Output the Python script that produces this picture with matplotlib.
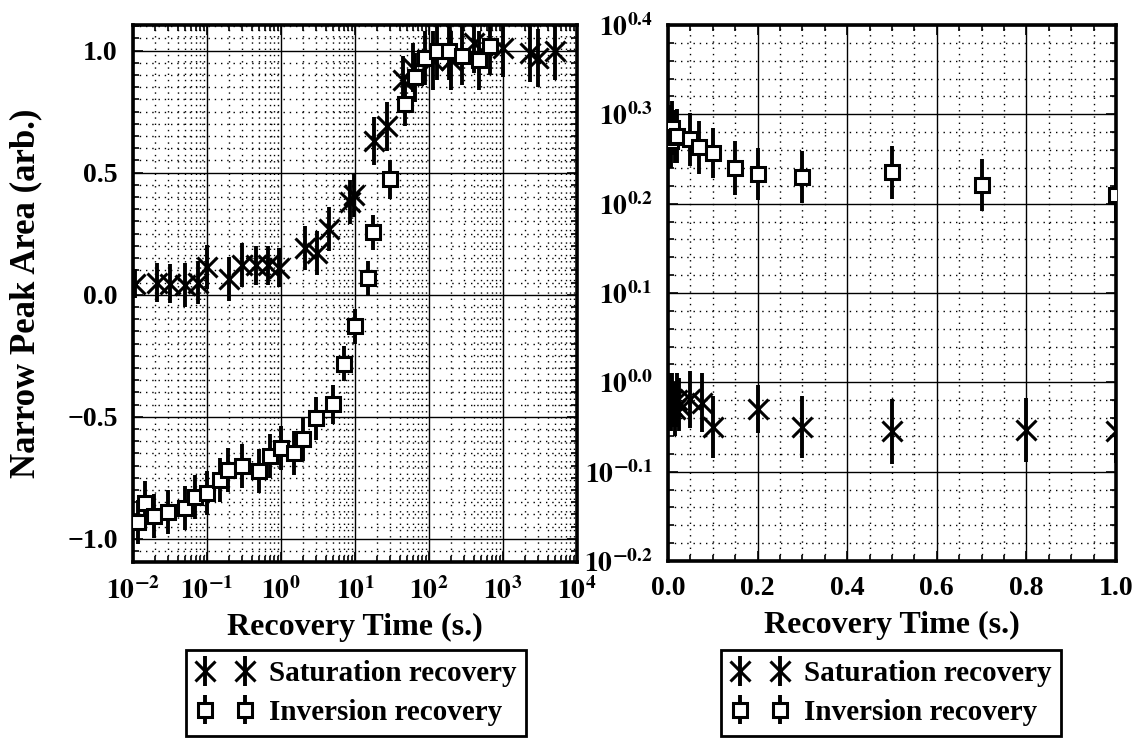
"""Narrow peak area vs recovery time: saturation and inversion recovery."""

import matplotlib
import numpy as np

matplotlib.use("Agg")
import matplotlib.pyplot as plt
from matplotlib.ticker import FixedFormatter, FixedLocator, FuncFormatter, LogLocator, MultipleLocator

plt.rcParams["font.family"] = ["Liberation Serif", "DejaVu Serif"]
plt.rcParams["font.weight"] = "bold"
plt.rcParams["axes.labelweight"] = "bold"
plt.rcParams["mathtext.fontset"] = "stix"

LABELS = ["Saturation recovery", "Inversion recovery"]

# left panel, log time axis
sat_t = [0.0105, 0.021, 0.032, 0.050, 0.075, 0.10, 0.20, 0.30, 0.46, 0.66, 0.95,
         2.1, 3.1, 4.4, 8.5, 9.8, 18, 27, 45, 60, 115, 200, 400, 1000, 2300, 3000, 5000]
sat_area = [0.045, 0.05, 0.045, 0.04, 0.05, 0.115, 0.065, 0.12, 0.12, 0.12, 0.11,
            0.19, 0.17, 0.27, 0.38, 0.41, 0.63, 0.69, 0.88, 0.93, 0.96, 0.96, 1.03, 1.01, 0.99, 0.97, 1.0]
sat_err = [0.06, 0.08, 0.08, 0.09, 0.09, 0.09, 0.09, 0.09, 0.08, 0.08, 0.08,
           0.09, 0.09, 0.09, 0.09, 0.09, 0.10, 0.10, 0.10, 0.10, 0.12, 0.12, 0.12, 0.12, 0.12, 0.12, 0.12]

inv_t = [0.0118, 0.0147, 0.0195, 0.030, 0.050, 0.068, 0.10, 0.15, 0.19, 0.30, 0.50, 0.70,
         1.0, 1.48, 2.0, 3.0, 5.0, 7.0, 10, 14.8, 17.4, 29.5, 47.6, 64, 89, 129, 184, 280, 470, 660]
inv_area = [-0.93, -0.854, -0.907, -0.889, -0.875, -0.83, -0.813, -0.758, -0.717, -0.703, -0.724, -0.662,
            -0.628, -0.648, -0.593, -0.507, -0.449, -0.282, -0.13, 0.07, 0.255, 0.473, 0.78, 0.89,
            0.97, 1.0, 1.0, 0.98, 0.96, 1.02]
inv_err = [0.09, 0.09, 0.09, 0.09, 0.09, 0.09, 0.09, 0.09, 0.09, 0.09, 0.09, 0.09,
           0.09, 0.09, 0.09, 0.09, 0.08, 0.07, 0.07, 0.07, 0.07, 0.08, 0.09, 0.10,
           0.11, 0.12, 0.12, 0.12, 0.12, 0.12]

# right panel, linear time axis; areas kept as log10 exponents
sat_t_short = [0.003, 0.006, 0.01, 0.015, 0.02, 0.025, 0.05, 0.077, 0.1, 0.2, 0.3, 0.5, 0.8, 1.0]
sat_exp = [-0.02, -0.025, -0.02, -0.03, -0.02, -0.025, -0.019, -0.023, -0.05, -0.03, -0.05, -0.055, -0.053, -0.055]
sat_exp_err = [0.03, 0.03, 0.03, 0.03, 0.03, 0.03, 0.032, 0.033, 0.035, 0.027, 0.035, 0.036, 0.036, 0.035]

inv_t_short = [0.003, 0.006, 0.01, 0.015, 0.02, 0.05, 0.07, 0.1, 0.15, 0.2, 0.3, 0.5, 0.7, 1.0]
inv_exp = [0.28, 0.27, 0.285, 0.275, 0.276, 0.272, 0.263, 0.257, 0.24, 0.233, 0.23, 0.235, 0.221, 0.21]
inv_exp_err = [0.03, 0.03, 0.03, 0.03, 0.03, 0.03, 0.03, 0.028, 0.03, 0.029, 0.029, 0.03, 0.029, 0.03]

exp_ticks = [-0.2, -0.1, 0.0, 0.1, 0.2, 0.3, 0.4]


def draw(ax, x, y, yerr, marker, ms, label):
    return ax.errorbar(x, y, yerr=yerr, fmt=marker, ms=ms, mfc="white", mec="black",
                       mew=2.2, ecolor="black", elinewidth=2.8, capsize=0,
                       label=label, zorder=3, clip_on=True)


def style_axes(ax):
    ax.grid(which="major", color="black", lw=1.0, ls="-")
    ax.grid(which="minor", color="black", lw=1.0, ls=(0, (1, 3.5)))
    ax.set_axisbelow(True)
    for sp in ax.spines.values():
        sp.set_linewidth(2.6)
    ax.tick_params(which="both", direction="in", top=True, right=True, width=1.2,
                   labelsize=20, pad=11)
    ax.tick_params(which="major", length=7)
    ax.tick_params(which="minor", length=4)


def log_err(e, d):
    e = np.asarray(e)
    d = np.asarray(d)
    y = 10.0 ** e
    return y, [y - 10.0 ** (e - d), 10.0 ** (e + d) - y]


fig = plt.figure(figsize=(11.41, 7.38), dpi=100)
W, H = 1141, 738
ax1 = fig.add_axes([133 / W, 1 - 562 / H, 444 / W, 537 / H])
ax2 = fig.add_axes([668 / W, 1 - 561 / H, 448 / W, 536 / H])

# left panel
h_sat = draw(ax1, sat_t, sat_area, sat_err, "x", 14, LABELS[0])
h_inv = draw(ax1, inv_t, inv_area, inv_err, "s", 10.5, LABELS[1])
ax1.set_xscale("log")
ax1.set_xlim(1e-2, 1e4)
ax1.set_ylim(-1.095, 1.105)
ax1.xaxis.set_major_locator(LogLocator(base=10, numticks=10))
ax1.xaxis.set_minor_locator(LogLocator(base=10, subs=np.arange(2, 10), numticks=20))
ax1.xaxis.set_major_formatter(FuncFormatter(lambda v, _: r"$\mathbf{10^{%d}}$" % round(np.log10(v))))
ax1.yaxis.set_major_locator(MultipleLocator(0.5))
ax1.yaxis.set_minor_locator(MultipleLocator(0.05))
ax1.yaxis.set_major_formatter(FuncFormatter(lambda v, _: f"{v:.1f}".replace("-", "\u2212")))
style_axes(ax1)
ax1.set_ylabel("Narrow Peak Area (arb.)", fontsize=25)
ax1.yaxis.set_label_coords(-0.205, 0.5)

# right panel
ys, yerr_s = log_err(sat_exp, sat_exp_err)
yi, yerr_i = log_err(inv_exp, inv_exp_err)
draw(ax2, sat_t_short, ys, yerr_s, "x", 14, LABELS[0])
draw(ax2, inv_t_short, yi, yerr_i, "s", 10.5, LABELS[1])
ax2.set_yscale("log")
ax2.set_xlim(0, 1.0)
ax2.set_ylim(10 ** -0.2, 10 ** 0.4)
ax2.xaxis.set_major_locator(MultipleLocator(0.2))
ax2.xaxis.set_minor_locator(MultipleLocator(0.05))
ax2.xaxis.set_major_formatter(FuncFormatter(lambda v, _: f"{v:.1f}"))
ax2.yaxis.set_major_locator(FixedLocator([10 ** e for e in exp_ticks]))
ax2.yaxis.set_major_formatter(FixedFormatter([r"$\mathbf{10^{%.1f}}$" % e for e in exp_ticks]))
ax2.yaxis.set_minor_locator(FixedLocator([10 ** (k / 100) for k in range(-20, 41, 2)]))
ax2.yaxis.set_minor_formatter(FuncFormatter(lambda v, _: ""))
style_axes(ax2)

for ax, cx in ((ax1, 356), (ax2, 891)):
    ax.set_xlabel("Recovery Time (s.)", fontsize=23, va="center")
    ax.xaxis.set_label_coords(0.5, -0.121)
    leg = ax.legend([h_sat, h_inv], LABELS, loc="lower center", numpoints=2,
                    bbox_to_anchor=(cx / W, 2 / H), bbox_transform=fig.transFigure,
                    fontsize=21, frameon=True, fancybox=False, edgecolor="black",
                    framealpha=1, borderpad=0.35, labelspacing=0.4, handlelength=2.0,
                    handletextpad=0.5, borderaxespad=0)
    leg.get_frame().set_linewidth(2.0)

fig.savefig("out.png", dpi=100)
plt.close(fig)
